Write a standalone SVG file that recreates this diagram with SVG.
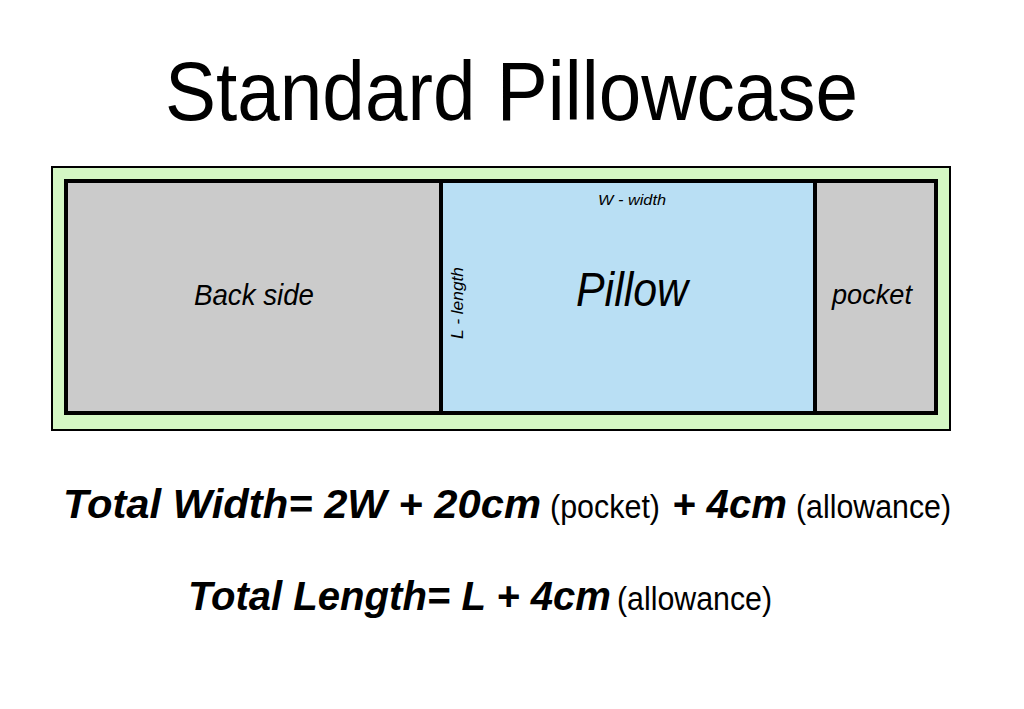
<svg xmlns="http://www.w3.org/2000/svg" width="1024" height="709" viewBox="0 0 1024 709">
<style>
.hand{font-family:"Liberation Sans","DejaVu Sans",sans-serif;font-style:italic;fill:#000}
.bold{font-weight:bold}
.plain{font-family:"Liberation Sans",Arial,sans-serif;fill:#000}
.title{font-family:"Liberation Sans","DejaVu Sans",sans-serif;fill:#000}
</style>
<rect width="1024" height="709" fill="#ffffff"/>
<text class="title" x="165" y="120" font-size="84" textLength="693" lengthAdjust="spacingAndGlyphs">Standard Pillowcase</text>
<g id="outer"><rect x="52" y="167" width="898" height="263" fill="#d4f7c4" stroke="#000" stroke-width="2"/></g>
<g id="frame"><rect x="66" y="181" width="870" height="232" fill="#cbcbcb" stroke="#000" stroke-width="4"/></g>
<g id="back-side">
<rect x="68" y="183" width="373" height="228" fill="#cbcbcb"/>
<text class="hand" x="254" y="305" font-size="30" text-anchor="middle" textLength="120" lengthAdjust="spacingAndGlyphs">Back side</text>
</g>
<g id="pillow">
<rect x="443" y="183" width="371" height="228" fill="#b9dff4"/>
<text class="hand" x="632" y="205" font-size="14" text-anchor="middle" textLength="68" lengthAdjust="spacingAndGlyphs">W - width</text>
<text class="hand" x="632" y="306" font-size="48" text-anchor="middle" textLength="112" lengthAdjust="spacingAndGlyphs">Pillow</text>
<text class="hand" transform="translate(463,303) rotate(-90)" font-size="16" text-anchor="middle" textLength="72" lengthAdjust="spacingAndGlyphs">L - length</text>
</g>
<g id="pocket">
<rect x="817" y="183" width="117" height="228" fill="#cbcbcb"/>
<text class="hand" x="872" y="304" font-size="28" text-anchor="middle" textLength="80" lengthAdjust="spacingAndGlyphs">pocket</text>
</g>
<g id="connectors" stroke="#000" stroke-width="4">
<line x1="441" y1="181" x2="441" y2="413"/>
<line x1="815" y1="181" x2="815" y2="413"/>
</g>
<g id="formula-width">
<text class="hand bold" x="63" y="518" font-size="40" textLength="478" lengthAdjust="spacingAndGlyphs">Total Width= 2W + 20cm</text>
<text class="plain" x="550" y="518" font-size="33" textLength="110" lengthAdjust="spacingAndGlyphs">(pocket)</text>
<text class="hand bold" x="672" y="518" font-size="40" textLength="115" lengthAdjust="spacingAndGlyphs">+  4cm</text>
<text class="plain" x="796" y="518" font-size="33" textLength="155" lengthAdjust="spacingAndGlyphs">(allowance)</text>
</g>
<g id="formula-length">
<text class="hand bold" x="188" y="610" font-size="40" textLength="423" lengthAdjust="spacingAndGlyphs">Total Length= L + 4cm</text>
<text class="plain" x="617" y="610" font-size="33" textLength="155" lengthAdjust="spacingAndGlyphs">(allowance)</text>
</g>
</svg>
